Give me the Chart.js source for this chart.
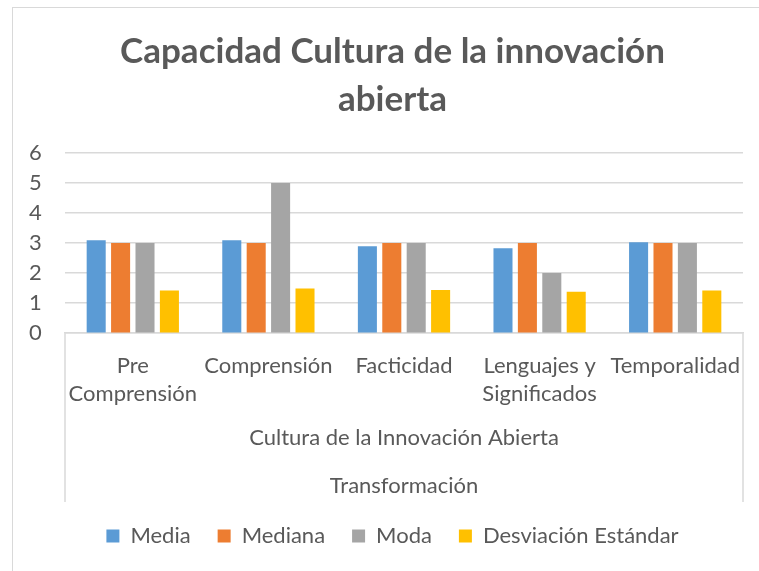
<!DOCTYPE html>
<html>
<head>
<meta charset="utf-8">
<script src="https://cdn.jsdelivr.net/npm/chart.js@4"></script>
<style>
  html, body { margin: 0; padding: 0; background: #fff; overflow: hidden; }
  #wrap { position: relative; width: 759px; height: 571px; }
  #marco {
    position: absolute; left: 12px; top: 7px; width: 800px; height: 620px;
    border: 1.5px solid #d9d9d9; box-sizing: border-box;
  }
  canvas { position: absolute; left: 0; top: 0; }
</style>
</head>
<body>
<div id="wrap">
  <div id="marco"></div>
  <canvas id="grafico" width="759" height="571"></canvas>
</div>
<script>
// categorías y valores por indicador
const categorias = [['Pre', 'Comprensión'], 'Comprensión', 'Facticidad', ['Lenguajes y', 'Significados'], 'Temporalidad'];
const nivelesEje = ['Cultura de la Innovación Abierta', 'Transformación'];
const media = [3.09, 3.09, 2.89, 2.83, 3.03];
const mediana = [3, 3, 3, 3, 3];
const moda = [3, 5, 3, 2, 3];
const desviacion = [1.42, 1.49, 1.44, 1.38, 1.42];
const ejeY = { min: 0, max: 6, paso: 1 };

const gris = '#595959';
const linea = '#d9d9d9';
const fuente = 'Lato, "Liberation Sans", sans-serif';

// líneas laterales del eje de categorías de varios niveles
const cajaEje = {
    id: 'cajaEje',
    afterDraw(chart) {
        const { ctx, chartArea } = chart;
        const x = chart.scales.x;
        ctx.save();
        ctx.strokeStyle = linea;
        ctx.lineWidth = 1.5;
        ctx.beginPath();
        [chartArea.left, chartArea.right].forEach(px => {
            ctx.moveTo(px, chartArea.bottom);
            ctx.lineTo(px, x.bottom + 4);
        });
        ctx.stroke();
        ctx.restore();
    }
};

new Chart(document.getElementById('grafico'), {
    type: 'bar',
    data: {
        labels: categorias,
        datasets: [
            { label: 'Media', data: media, backgroundColor: '#5B9BD5' },
            { label: 'Mediana', data: mediana, backgroundColor: '#ED7D31' },
            { label: 'Moda', data: moda, backgroundColor: '#A5A5A5' },
            { label: 'Desviación Estándar', data: desviacion, backgroundColor: '#FFC000' }
        ]
    },
    options: {
        responsive: false,
        animation: false,
        layout: { padding: { left: 42, right: 16, top: 0, bottom: 14 } },
        datasets: { bar: { categoryPercentage: 0.72, barPercentage: 0.78 } },
        plugins: {
            title: {
                display: true,
                text: ['Capacidad Cultura de la innovación', 'abierta'],
                color: gris,
                font: { family: fuente, size: 35, weight: 'bold', lineHeight: 1.37 },
                padding: { top: 28, bottom: 29 }
            },
            legend: {
                position: 'bottom',
                labels: {
                    color: gris,
                    font: { family: fuente, size: 22 },
                    boxWidth: 13,
                    boxHeight: 13,
                    padding: 27
                }
            },
            tooltip: { enabled: false }
        },
        scales: {
            x: {
                grid: { display: false },
                border: { display: true, color: linea, width: 1.5 },
                ticks: {
                    color: gris,
                    font: { family: fuente, size: 22, lineHeight: 1.27 },
                    padding: 11,
                    maxRotation: 0,
                    autoSkip: false
                },
                title: {
                    display: true,
                    text: nivelesEje,
                    color: gris,
                    font: { family: fuente, size: 22, lineHeight: 2.18 },
                    padding: { top: -5, bottom: -12 }
                }
            },
            y: {
                min: ejeY.min,
                max: ejeY.max,
                afterFit(scale) { scale.width = 23; },
                grid: { color: linea, lineWidth: 1.5, drawTicks: false },
                border: { display: false },
                ticks: {
                    stepSize: ejeY.paso,
                    color: gris,
                    font: { family: fuente, size: 22 },
                    mirror: true,
                    padding: -36
                }
            }
        }
    },
    plugins: [cajaEje]
});
</script>
</body>
</html>
